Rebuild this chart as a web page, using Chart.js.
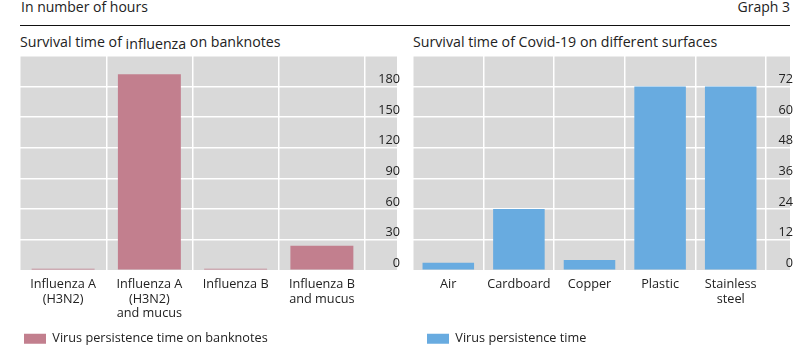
<!DOCTYPE html>
<html><head><meta charset="utf-8">
<script src="https://cdn.jsdelivr.net/npm/chart.js@4/dist/chart.umd.min.js"></script>
<style>
html,body{margin:0;padding:0;background:#fff;width:805px;height:355px;overflow:hidden;font-family:'Open Sans',sans-serif;color:#222}
.t{position:absolute;white-space:nowrap;line-height:1}
.wrap{position:absolute;top:50px;height:305px}
</style></head><body>
<div class="t" style="left:21px;top:0px;font-size:14px">In number of hours</div>
<div class="t" style="right:15px;top:0px;font-size:14px">Graph 3</div>
<div style="position:absolute;left:20px;top:25px;width:770px;height:1px;background:#111"></div>
<div class="t" style="left:20px;top:35px;font-size:14.2px">Survival time of <span style="position:relative;top:2px">influenza</span> on banknotes</div>
<div class="t" style="left:413px;top:35px;font-size:14.2px">Survival time of Covid-19 on different surfaces</div>
<div class="wrap" style="left:0;width:400px"><canvas id="c1" width="400" height="305"></canvas></div>
<div class="wrap" style="left:400px;width:405px"><canvas id="c2" width="405" height="305"></canvas></div>
<script>
// ---- data ----
const fluCategories = [["Influenza A","(H3N2)"], ["Influenza A","(H3N2)","and mucus"], "Influenza B", ["Influenza B","and mucus"]];
const fluHours = [1.5, 192, 1.5, 24];
const fluTicks = [0, 30, 60, 90, 120, 150, 180];
const fluLegend = "Virus persistence time on banknotes";

const covidCategories = ["Air", "Cardboard", "Copper", "Plastic", ["Stainless","steel"]];
const covidHours = [3, 24, 4, 72, 72];
const covidTicks = [0, 12, 24, 36, 48, 60, 72];
const covidLegend = "Virus persistence time";

const FONT = "'Open Sans', sans-serif";
const TEXT = '#222';

function makeChart(id, labels, values, ticksList, color, legendText, o) {
  const step = ticksList[1] - ticksList[0];
  const max = ticksList[ticksList.length - 1] + step;
  const bg = {
    id: 'bg' + id,
    afterLayout(chart) {
      // leave a strip at the right of the plot for the y tick labels
      const xs = chart.scales.x;
      xs.right = chart.chartArea.right - o.zone;
      xs.width = xs.right - xs.left;
      xs.configure();
    },
    beforeDraw(chart) {
      const a = chart.chartArea, ctx = chart.ctx;
      ctx.save(); ctx.fillStyle = '#d9d9d9';
      ctx.fillRect(a.left, a.top, a.right - a.left, a.bottom - a.top);
      ctx.restore();
    }
  };
  return new Chart(document.getElementById(id), {
    type: 'bar',
    data: { labels, datasets: [{ label: legendText, data: values, backgroundColor: color, borderWidth: 0, categoryPercentage: 1, barPercentage: 0.73 }] },
    options: {
      responsive: false, animation: false,
      layout: { padding: { left: o.padL, right: o.padR, top: 6, bottom: 0 } },
      plugins: {
        legend: { position: 'bottom', align: 'start',
          labels: { boxWidth: 22, boxHeight: 10, padding: o.legPad, color: TEXT, font: { family: FONT, size: 12.7 } } },
        tooltip: { enabled: false }
      },
      scales: {
        x: {
          grid: { color: '#fff', lineWidth: 1.5, offset: true, drawTicks: false },
          border: { display: false },
          ticks: { color: TEXT, font: { family: FONT, size: 12.7, lineHeight: 1.14 }, padding: 7, maxRotation: 0, autoSkip: false },
          afterFit: s => { s.height = 62 - o.legPad; }
        },
        y: {
          position: 'right', min: 0, max: max,
          grid: { color: '#fff', lineWidth: 1.5, drawTicks: false },
          border: { display: false },
          afterBuildTicks: s => { s.ticks = ticksList.concat([max]).map(v => ({ value: v })); },
          ticks: { mirror: true, padding: 3, labelOffset: -7, color: TEXT, font: { family: FONT, size: 12.7 },
            callback: v => (v === max ? '' : String(v)) },
          afterFit: s => { s.width = 0; s.paddingTop = 0; s.paddingBottom = 0; }
        }
      }
    },
    plugins: [bg]
  });
}

makeChart('c1', fluCategories, fluHours, fluTicks, '#c27f8e', fluLegend, { padL: 20, padR: 3, zone: 32, legPad: 4 });
makeChart('c2', covidCategories, covidHours, covidTicks, '#68abe0', covidLegend, { padL: 13, padR: 15, zone: 24, legPad: 14 });
</script>
</body></html>
